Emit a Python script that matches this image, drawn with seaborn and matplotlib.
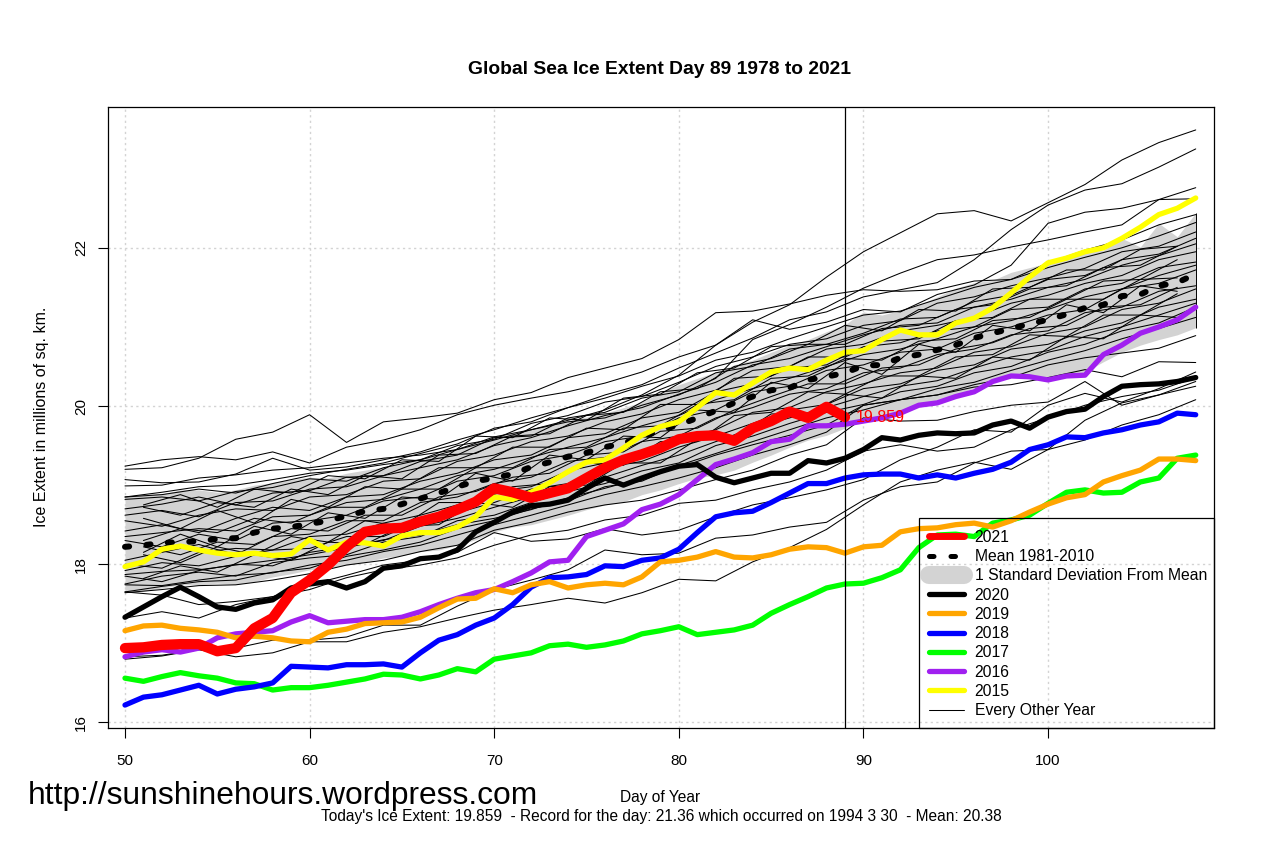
import numpy as np
import matplotlib
matplotlib.use("Agg")
import matplotlib.pyplot as plt
from matplotlib.lines import Line2D
from matplotlib.patches import Rectangle
import seaborn as sns

days_all = list(range(50, 109))
days_2021 = list(range(50, 90))
days_even = list(range(50, 109, 2))
days_odd = list(range(51, 108, 2))

y2021 = [16.94,16.95,16.98,16.99,16.99,16.90,16.94,17.19,17.32,17.64,17.80,17.99,18.22,18.41,18.45,18.46,18.54,18.60,18.69,18.79,18.96,18.91,18.84,18.90,18.96,19.09,19.22,19.32,19.39,19.47,19.58,19.62,19.63,19.56,19.72,19.81,19.93,19.85,19.99,19.86]
y2020 = [17.33,17.46,17.59,17.71,17.59,17.46,17.43,17.51,17.55,17.70,17.75,17.78,17.70,17.78,17.95,17.98,18.07,18.09,18.18,18.41,18.53,18.66,18.74,18.76,18.81,18.96,19.09,19.00,19.09,19.17,19.24,19.26,19.10,19.03,19.09,19.15,19.15,19.31,19.28,19.34,19.45,19.60,19.57,19.63,19.66,19.65,19.66,19.76,19.81,19.72,19.86,19.93,19.96,20.12,20.25,20.27,20.28,20.31,20.36]
y2019 = [17.16,17.22,17.23,17.19,17.17,17.14,17.07,17.09,17.07,17.03,17.02,17.14,17.18,17.25,17.26,17.27,17.33,17.45,17.56,17.57,17.69,17.64,17.74,17.78,17.70,17.74,17.76,17.74,17.84,18.03,18.05,18.09,18.16,18.09,18.08,18.12,18.19,18.22,18.21,18.14,18.22,18.24,18.41,18.45,18.46,18.50,18.52,18.47,18.55,18.66,18.76,18.84,18.88,19.04,19.12,19.19,19.33,19.33,19.31]
y2018 = [16.22,16.32,16.35,16.41,16.47,16.36,16.42,16.45,16.50,16.71,16.70,16.69,16.73,16.73,16.74,16.70,16.88,17.04,17.11,17.23,17.32,17.49,17.71,17.83,17.84,17.87,17.98,17.97,18.05,18.08,18.19,18.40,18.60,18.65,18.67,18.78,18.90,19.02,19.02,19.09,19.13,19.14,19.14,19.09,19.13,19.09,19.15,19.20,19.29,19.45,19.51,19.61,19.60,19.66,19.70,19.76,19.80,19.91,19.89]
y2017 = [16.56,16.52,16.58,16.63,16.59,16.56,16.50,16.49,16.41,16.44,16.44,16.47,16.51,16.55,16.61,16.60,16.55,16.60,16.68,16.64,16.80,16.84,16.88,16.97,16.99,16.95,16.98,17.03,17.12,17.16,17.21,17.11,17.14,17.17,17.23,17.38,17.49,17.59,17.70,17.75,17.76,17.83,17.93,18.21,18.37,18.38,18.35,18.52,18.56,18.62,18.77,18.91,18.94,18.90,18.91,19.04,19.09,19.34,19.38]
y2016 = [16.83,16.89,16.92,16.89,16.94,17.07,17.12,17.14,17.16,17.27,17.35,17.26,17.28,17.30,17.30,17.33,17.40,17.49,17.57,17.64,17.68,17.78,17.89,18.03,18.05,18.35,18.43,18.51,18.69,18.76,18.88,19.07,19.26,19.33,19.41,19.55,19.58,19.75,19.75,19.77,19.81,19.85,19.91,20.01,20.04,20.12,20.18,20.31,20.38,20.37,20.33,20.38,20.39,20.65,20.77,20.92,21.00,21.09,21.25]
y2015 = [17.97,18.03,18.19,18.23,18.18,18.14,18.12,18.14,18.11,18.13,18.31,18.18,18.28,18.27,18.23,18.36,18.40,18.40,18.47,18.60,18.85,18.82,18.91,19.03,19.17,19.29,19.32,19.47,19.63,19.74,19.80,19.98,20.17,20.14,20.29,20.43,20.48,20.46,20.58,20.68,20.70,20.84,20.96,20.90,20.90,21.05,21.11,21.24,21.43,21.63,21.81,21.87,21.95,22.00,22.12,22.26,22.42,22.50,22.63]
y_mean = [18.22,18.24,18.27,18.28,18.29,18.32,18.33,18.40,18.45,18.47,18.51,18.55,18.61,18.67,18.70,18.76,18.83,18.90,18.98,19.05,19.09,19.14,19.23,19.29,19.36,19.41,19.48,19.53,19.61,19.70,19.76,19.85,19.94,20.04,20.12,20.20,20.23,20.33,20.37,20.42,20.51,20.52,20.61,20.65,20.71,20.77,20.86,20.92,20.98,21.04,21.09,21.16,21.24,21.28,21.39,21.41,21.52,21.56,21.67]
sd_upper = [18.85,18.88,18.89,18.94,18.94,18.91,18.94,19.00,19.03,19.07,19.10,19.09,19.15,19.19,19.23,19.28,19.34,19.38,19.45,19.53,19.61,19.66,19.70,19.76,19.82,19.86,19.91,19.98,20.05,20.17,20.27,20.35,20.43,20.52,20.58,20.68,20.77,20.84,20.94,21.03,21.19,21.15,21.21,21.28,21.38,21.49,21.56,21.59,21.69,21.75,21.81,21.87,21.95,21.97,22.12,22.01,22.31,22.14,22.44]
sd_lower = [17.64,17.66,17.70,17.74,17.74,17.76,17.75,17.78,17.84,17.88,17.93,17.95,17.99,18.03,18.08,18.11,18.16,18.18,18.24,18.31,18.41,18.47,18.50,18.56,18.62,18.69,18.75,18.79,18.88,18.94,19.02,19.09,19.13,19.19,19.29,19.38,19.48,19.57,19.63,19.72,19.85,19.85,19.93,20.01,20.08,20.14,20.23,20.31,20.36,20.36,20.36,20.39,20.43,20.56,20.68,20.77,20.84,20.90,20.99]

other_years = [
 [19.20,19.22,19.34,19.58,19.67,19.89,19.54,19.80,19.85,19.91,20.08,20.17,20.36,20.48,20.60,20.84,21.18,21.20,21.29,21.40,21.47,21.45,21.47,21.58,21.60,21.81,21.97,22.10,22.29,22.42],
 [19.24,19.32,19.36,19.32,19.42,19.28,19.48,19.57,19.70,19.89,20.01,20.10,20.18,20.29,20.43,20.62,20.77,21.06,21.28,21.63,21.95,22.19,22.43,22.47,22.34,22.57,22.80,23.11,23.33,23.49],
 [19.07,19.03,19.04,19.14,19.34,19.19,19.23,19.32,19.42,19.57,19.70,19.85,19.98,20.14,20.27,20.48,20.67,20.86,21.09,21.19,21.38,21.47,21.56,21.85,22.23,22.54,22.73,22.81,23.02,23.25],
 [18.99,19.00,19.09,19.13,19.19,19.22,19.28,19.34,19.38,19.45,19.61,19.70,19.80,19.85,20.01,20.14,20.35,20.84,21.03,21.25,21.49,21.68,21.85,21.91,22.01,22.10,22.20,22.29,22.61,22.62],
 [18.85,18.91,18.98,19.00,19.07,19.15,19.19,19.26,19.32,19.45,19.57,19.70,19.82,19.95,20.14,20.39,20.77,21.09,20.97,21.06,21.22,21.19,21.41,21.53,21.78,22.31,22.45,22.50,22.61,22.76],
 [18.82,18.85,18.80,18.92,18.97,19.08,19.05,19.22,19.32,19.50,19.58,19.78,19.88,20.05,20.12,20.30,20.50,20.62,20.78,20.85,21.02,21.08,21.30,21.38,21.52,21.62,21.74,21.95,22.02,22.20],
 [18.70,18.76,18.85,18.75,18.90,18.93,19.10,19.12,19.30,19.38,19.60,19.62,19.85,19.92,20.10,20.18,20.42,20.50,20.72,20.78,20.92,21.10,21.12,21.32,21.40,21.60,21.65,21.85,21.92,22.12],
 [18.55,18.48,18.62,18.70,18.68,18.85,18.88,19.05,19.08,19.30,19.38,19.55,19.62,19.80,19.90,20.08,20.20,20.45,20.50,20.72,20.78,20.95,21.02,21.12,21.30,21.40,21.55,21.65,21.85,21.95],
 [18.42,18.50,18.40,18.58,18.72,18.68,18.85,18.88,19.05,19.15,19.32,19.38,19.60,19.65,19.85,19.92,20.18,20.28,20.48,20.52,20.75,20.80,20.95,21.00,21.22,21.25,21.48,21.55,21.75,21.82],
 [18.30,18.22,18.38,18.30,18.52,18.55,18.62,18.80,18.85,19.05,19.12,19.30,19.38,19.55,19.62,19.85,19.95,20.18,20.25,20.45,20.52,20.68,20.72,20.92,21.00,21.15,21.22,21.48,21.55,21.72],
 [18.05,18.15,18.25,18.12,18.35,18.38,18.55,18.55,18.78,18.85,19.02,19.10,19.30,19.35,19.55,19.62,19.85,19.98,20.15,20.22,20.42,20.48,20.65,20.72,20.90,20.95,21.18,21.25,21.45,21.52],
 [18.00,17.95,18.15,18.20,18.18,18.35,18.38,18.52,18.62,18.75,18.92,18.98,19.18,19.28,19.38,19.58,19.70,19.92,19.98,20.18,20.28,20.42,20.48,20.68,20.75,20.92,21.00,21.22,21.30,21.48],
 [17.92,18.02,17.98,18.10,18.18,18.20,18.35,18.35,18.55,18.65,18.78,18.95,19.02,19.22,19.30,19.48,19.62,19.78,19.95,20.02,20.22,20.28,20.45,20.52,20.72,20.78,20.95,21.05,21.25,21.35],
 [17.75,17.85,17.90,17.85,18.02,18.08,18.12,18.28,18.35,18.55,18.62,18.78,18.92,19.02,19.18,19.28,19.50,19.62,19.78,19.92,20.02,20.18,20.25,20.42,20.50,20.68,20.78,20.95,21.05,21.25],
 [18.62,18.68,18.60,18.78,18.80,18.95,18.98,19.12,19.22,19.32,19.50,19.60,19.75,19.88,19.98,20.15,20.30,20.52,20.60,20.75,20.90,21.02,21.05,21.25,21.35,21.50,21.60,21.78,21.90,22.05],
 [18.35,18.40,18.45,18.42,18.60,18.62,18.78,18.82,18.95,19.12,19.20,19.35,19.48,19.60,19.75,19.88,20.08,20.22,20.35,20.50,20.65,20.72,20.85,21.00,21.08,21.22,21.38,21.48,21.65,21.78],
 [17.85,17.78,17.92,18.00,17.98,18.15,18.22,18.30,18.48,18.58,18.72,18.85,19.00,19.10,19.25,19.38,19.55,19.72,19.85,19.98,20.12,20.25,20.32,20.48,20.62,20.70,20.88,21.00,21.15,21.30],
 [18.85,18.88,18.95,18.90,19.02,19.12,19.20,19.28,19.40,19.52,19.72,19.80,19.98,20.10,20.25,20.38,20.58,20.68,20.85,21.00,21.15,21.20,21.35,21.50,21.60,21.75,21.88,22.00,22.15,22.32],
 [17.65,17.72,17.78,17.80,17.90,17.95,18.10,18.18,18.28,18.45,18.55,18.70,18.80,18.98,19.05,19.25,19.40,19.55,19.70,19.85,19.95,20.08,20.22,20.30,20.45,20.58,20.70,20.85,20.98,21.12],
 [16.83,16.85,16.92,16.83,16.88,17.02,17.02,17.14,17.21,17.32,17.42,17.49,17.57,17.51,17.64,17.81,17.79,18.03,18.21,18.44,18.75,19.04,19.19,19.29,19.20,19.45,19.57,19.76,19.89,20.08],
 [16.80,16.84,16.92,16.94,17.04,17.04,17.08,17.23,17.23,17.47,17.68,17.80,17.93,18.18,18.12,18.14,18.33,18.37,18.47,18.53,18.81,18.98,19.04,19.28,19.43,19.45,19.82,20.04,20.14,20.25],
 [17.32,17.40,17.32,17.49,17.59,17.74,17.86,17.99,18.05,18.15,18.40,18.29,18.32,18.45,18.37,18.43,18.60,18.75,18.84,18.94,19.07,19.32,19.48,19.70,19.67,20.01,20.16,20.05,20.22,20.43],
 [17.65,17.61,17.49,17.53,17.59,17.68,17.83,17.93,17.99,18.08,18.24,18.37,18.43,18.56,18.62,18.77,18.81,18.94,19.04,19.19,19.43,19.51,19.43,19.48,19.70,19.85,20.01,20.12,20.20,20.36],
 [17.64,17.68,17.73,17.74,17.80,17.88,17.99,18.05,18.16,18.24,18.43,18.53,18.66,18.75,18.81,18.94,19.07,19.19,19.38,19.51,19.85,19.81,19.82,19.93,20.01,20.05,20.31,20.01,20.14,20.31],
 [17.74,17.73,17.80,17.86,17.89,17.99,18.05,18.16,18.24,18.37,18.50,18.62,18.75,18.88,18.98,19.09,19.22,19.38,19.51,19.67,20.01,20.08,20.14,20.24,20.27,20.36,20.46,20.37,20.56,20.55],
 [17.87,17.91,17.93,17.99,18.05,18.12,18.21,18.31,18.37,18.50,18.58,18.69,18.84,18.96,19.09,19.22,19.38,19.51,19.63,19.76,20.01,20.08,20.14,20.27,20.36,20.52,20.61,20.67,20.73,20.89],
]
other_years_odd = [
 [18.75,18.88,18.72,18.95,18.90,19.12,19.08,19.32,19.30,19.62,19.60,19.85,19.82,20.10,20.15,20.42,20.48,20.75,20.78,21.02,20.95,21.22,21.20,21.48,21.50,21.72,21.72,21.98,22.02],
 [18.58,18.45,18.68,18.52,18.82,18.72,18.98,18.95,19.22,19.22,19.48,19.48,19.72,19.70,20.02,20.02,20.35,20.38,20.62,20.62,20.82,20.85,21.08,21.12,21.35,21.35,21.58,21.60,21.85],
 [18.15,18.38,18.22,18.48,18.38,18.65,18.58,18.85,18.82,19.15,19.05,19.38,19.32,19.62,19.60,19.95,19.92,20.30,20.22,20.55,20.40,20.78,20.68,21.02,20.95,21.28,21.18,21.52,21.45],
 [18.12,18.02,18.22,18.12,18.35,18.28,18.55,18.48,18.78,18.78,18.98,19.02,19.28,19.25,19.55,19.55,19.88,19.92,20.18,20.15,20.38,20.38,20.62,20.65,20.90,20.88,21.15,21.15,21.42],
 [17.82,17.98,17.90,18.12,18.05,18.28,18.25,18.48,18.50,18.78,18.72,18.98,19.00,19.28,19.28,19.58,19.60,19.90,19.90,20.15,20.10,20.38,20.35,20.62,20.58,20.88,20.85,21.15,21.12],
 [18.72,18.62,18.78,18.72,18.95,18.88,19.12,19.08,19.38,19.40,19.62,19.65,19.88,19.92,20.18,20.22,20.50,20.60,20.78,20.78,20.98,21.02,21.22,21.28,21.48,21.52,21.75,21.78,22.02],
 [18.30,18.45,18.40,18.58,18.52,18.72,18.72,18.95,18.95,19.22,19.22,19.45,19.48,19.72,19.75,20.02,20.08,20.35,20.38,20.60,20.58,20.82,20.85,21.08,21.12,21.35,21.35,21.60,21.62],
 [18.22,18.12,18.28,18.25,18.45,18.42,18.62,18.62,18.85,18.92,19.10,19.15,19.38,19.42,19.68,19.72,19.95,20.12,20.28,20.28,20.48,20.52,20.72,20.80,20.98,21.02,21.25,21.28,21.50],
]

x_ticks = [50, 60, 70, 80, 90, 100]
y_ticks = [16, 18, 20, 22]
title_text = "Global Sea Ice Extent Day 89 1978 to 2021"
footer_text = "Today's Ice Extent: 19.859  - Record for the day: 21.36 which occurred on 1994 3 30  - Mean: 20.38"
url_text = "http://sunshinehours.wordpress.com"
current_day = 89
current_value = 19.859

sns.set_theme(style="white")
plt.rcParams['font.family'] = ['Liberation Sans', 'DejaVu Sans']

W, H = 1284, 855
fig = plt.figure(figsize=(W / 100, H / 100), dpi=100, facecolor="white")
ax = fig.add_axes([108 / W, 1 - 728 / H, (1214 - 108) / W, (728 - 107) / H])
ax.set_xlim(49.08, 108.99)
ax.set_ylim(15.93, 23.78)

ax.set_xticks(x_ticks)
ax.set_yticks(y_ticks)
ax.grid(True, color="#D3D3D3", linestyle=(0, (1.6, 2.4)), linewidth=1.0, zorder=0)
ax.set_axisbelow(True)
for s in ax.spines.values():
    s.set_color("black")
    s.set_linewidth(0.9)
ax.tick_params(axis="both", direction="out", length=7.5, width=0.8, color="black",
               labelcolor="black", labelsize=11, left=True, bottom=True)
ax.tick_params(axis="x", pad=11)
ax.tick_params(axis="y", pad=7)
for lab in ax.get_yticklabels():
    lab.set_rotation(90)
    lab.set_va("center")

ax.fill_between(days_all, sd_lower, sd_upper, color="#D3D3D3", linewidth=0, zorder=1)
ax.vlines(days_all[-1], sd_lower[-1], sd_upper[-1], color="black", linewidth=0.7, zorder=2)

for series in other_years:
    sns.lineplot(x=days_even, y=series, ax=ax, color="black", linewidth=0.75, zorder=2,
                 legend=False, errorbar=None)
for series in other_years_odd:
    sns.lineplot(x=days_odd, y=series, ax=ax, color="black", linewidth=0.75, zorder=2,
                 legend=False, errorbar=None)

sns.lineplot(x=days_all, y=y_mean, ax=ax, color="black", linewidth=4.3, zorder=3,
             linestyle=(0, (0.7, 2.9)), dash_capstyle="round", legend=False, errorbar=None)

thick = [(y2015, "#FFFF00"), (y2016, "#A020F0"), (y2017, "#00FF00"),
         (y2018, "#0000FF"), (y2019, "#FFA500"), (y2020, "#000000")]
for k, (series, col) in enumerate(thick):
    sns.lineplot(x=days_all, y=series, ax=ax, color=col, linewidth=3.8, zorder=4 + k * 0.1,
                 solid_joinstyle="round", solid_capstyle="round", legend=False, errorbar=None)
sns.lineplot(x=days_2021, y=y2021, ax=ax, color="#FF0000", linewidth=7.4, zorder=5,
             solid_joinstyle="round", solid_capstyle="round", legend=False, errorbar=None)

ax.axvline(current_day, color="black", linewidth=0.9, zorder=6)
ax.text(current_day + 0.6, current_value, "19.859", color="#FF0000", fontsize=11.5,
        va="center", ha="left", zorder=7)

handles = [
    Line2D([], [], color="#FF0000", lw=5.0, solid_capstyle="round", label="2021"),
    Line2D([], [], color="black", lw=3.6, linestyle=(0, (0.9, 3.4)), dash_capstyle="round", label="Mean 1981-2010"),
    Line2D([], [], color="#D3D3D3", lw=13, solid_capstyle="round", label="1 Standard Deviation From Mean"),
    Line2D([], [], color="#000000", lw=3.8, label="2020"),
    Line2D([], [], color="#FFA500", lw=3.8, label="2019"),
    Line2D([], [], color="#0000FF", lw=3.8, label="2018"),
    Line2D([], [], color="#00FF00", lw=3.8, label="2017"),
    Line2D([], [], color="#A020F0", lw=3.8, label="2016"),
    Line2D([], [], color="#FFFF00", lw=3.8, label="2015"),
    Line2D([], [], color="black", lw=0.75, label="Every Other Year"),
]
leg = ax.legend(handles=handles, loc="lower right", bbox_to_anchor=(1207 / W, 1 - 718 / H),
                bbox_transform=fig.transFigure, borderaxespad=0, fontsize=11.3, frameon=False,
                handlelength=2.2, handletextpad=0.7, labelspacing=0.27, borderpad=0,
                labelcolor="black")
leg.set_zorder(8)
ax.add_patch(Rectangle((919 / W, 1 - 728 / H), 295 / W, 210 / H, transform=fig.transFigure,
                       fill=False, edgecolor="black", linewidth=0.9, zorder=8, clip_on=False))

fig.text(660 / W, 1 - 70 / H, title_text, ha="center", va="center", fontsize=13.9, fontweight="bold", color="black")
fig.text(42 / W, 1 - 417 / H, "Ice Extent in millions of sq. km.", rotation=90, ha="center", va="center", fontsize=11.5, color="black")
fig.text(660 / W, 1 - 797 / H, "Day of Year", ha="center", va="center", fontsize=11.2, color="black")
fig.text(661 / W, 1 - 816 / H, footer_text, ha="center", va="center", fontsize=11.2, color="black")
fig.text(28 / W, 1 - 796 / H, url_text, ha="left", va="center", fontsize=22.9, color="black")

fig.savefig("out.png", dpi=100, facecolor="white")
